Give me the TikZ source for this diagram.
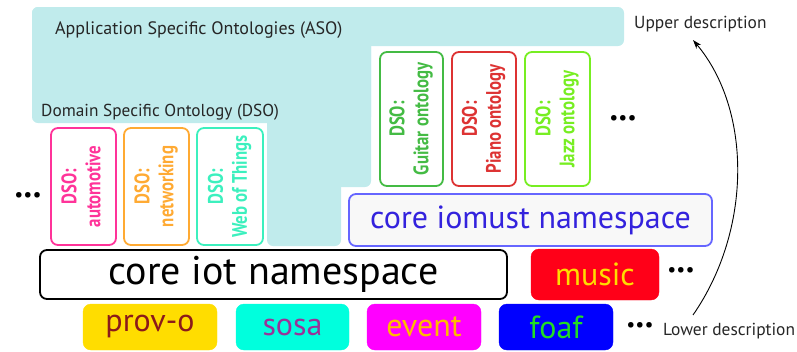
\documentclass[tikz,border=0pt]{standalone}
\usepackage{fontspec}
\usepackage{graphicx}
\setmainfont{PT Sans}
\usetikzlibrary{arrows.meta}

\definecolor{asobg}{RGB}{192,235,236}
\definecolor{cpink}{RGB}{255,51,153}
\definecolor{corange}{RGB}{255,170,51}
\definecolor{caqua}{RGB}{60,240,190}
\definecolor{cguitar}{RGB}{68,187,68}
\definecolor{cpiano}{RGB}{221,51,51}
\definecolor{cjazz}{RGB}{119,238,34}
\definecolor{iomustline}{RGB}{102,102,255}
\definecolor{iomusttext}{RGB}{51,34,221}
\definecolor{iomustfill}{RGB}{248,248,248}
\definecolor{musicfill}{RGB}{255,0,24}
\definecolor{goldy}{RGB}{255,221,0}
\definecolor{darkred}{RGB}{139,26,26}
\definecolor{aquafill}{RGB}{0,255,221}
\definecolor{plum}{RGB}{153,51,153}
\definecolor{magentafill}{RGB}{255,0,255}
\definecolor{eventtext}{RGB}{255,187,0}
\definecolor{bluefill}{RGB}{0,0,255}
\definecolor{foaftext}{RGB}{34,221,34}

% two-line narrow label of a domain ontology
\newcommand\dsolabel[1]{\scalebox{0.8}[1]{\begin{tabular}{@{}c@{}}DSO:\\#1\end{tabular}}}

\tikzset{
  dsobox/.style={draw=#1, text=#1, line width=1.8pt, rounded corners=7pt,
    fill=white, rotate=90, inner sep=0pt,
    font=\bfseries\fontsize{21}{24}\selectfont},
  nsbox/.style={rounded corners=7pt, line width=1.8pt, inner sep=0pt},
  basebox/.style={fill=#1, draw=#1, rounded corners=8pt, inner sep=0pt,
    minimum height=46pt, font=\fontsize{32}{32}\selectfont},
  dots/.style={inner sep=0pt, font=\fontsize{20}{20}\selectfont},
  label/.style={inner sep=0pt, text=black!85},
  asopart/.style={fill=asobg, draw=none, rounded corners=6pt}
}

\begin{document}
\begin{tikzpicture}[x=1pt,y=-1pt]
\useasboundingbox (0,0) rectangle (797,351);

% light cyan background of the application ontologies
\fill[asopart] (32,7) rectangle (624,46);
\fill[asopart] (32,7) rectangle (371,123);
\fill[asopart] (267,7) rectangle (371,187);
\fill[asopart] (267,7) rectangle (341,246);

\node[label, anchor=west, font=\fontsize{18}{18}\selectfont] (aso) at (55,30)
  {Application Specific Ontologies (ASO)};
\node[label, anchor=west, font=\fontsize{17.3}{17.3}\selectfont] (dso) at (41,112)
  {Domain Specific Ontology (DSO)};

% domain specific ontologies, left group
\node[dsobox=cpink, minimum width=117pt, minimum height=65pt] (auto) at (83.5,186.5)
  {\dsolabel{automotive}};
\node[dsobox=corange, minimum width=117pt, minimum height=65pt] (net) at (156.5,186.5)
  {\dsolabel{networking}};
\node[dsobox=caqua, minimum width=117pt, minimum height=66pt] (wot) at (230,186.5)
  {\dsolabel{Web of Things}};

% domain specific ontologies, music group
\node[dsobox=cguitar, minimum width=134pt, minimum height=63pt] (guitar) at (411.5,119)
  {\dsolabel{Guitar ontology}};
\node[dsobox=cpiano, minimum width=134pt, minimum height=64pt] (piano) at (484,119)
  {\dsolabel{Piano ontology}};
\node[dsobox=cjazz, minimum width=134pt, minimum height=65pt] (jazz) at (557.5,119)
  {\dsolabel{Jazz ontology}};

% core namespaces
\node[nsbox, draw=iomustline, fill=iomustfill, text=iomusttext,
  font=\fontsize{32}{32}\selectfont,
  minimum width=363pt, minimum height=52pt] (iomust) at (530.5,220)
  {core iomust namespace};
\node[nsbox, draw=black, fill=white, text=black,
  font=\fontsize{40}{40}\selectfont,
  minimum width=467pt, minimum height=49pt] (iot) at (273.5,274.5)
  {core iot namespace};

% base vocabularies
\node[basebox=musicfill, text=goldy, minimum width=128pt, minimum height=51pt] (music) at (595,274.5) {music};
\node[basebox=goldy, text=darkred, minimum width=134pt] (prov) at (150,327) {prov-o};
\node[basebox=aquafill, text=plum, minimum width=113pt] (sosa) at (292.5,327) {sosa};
\node[basebox=magentafill, text=eventtext, minimum width=114pt] (event) at (424,327) {event};
\node[basebox=bluefill, text=foaftext, minimum width=114pt] (foaf) at (556,327) {foaf};

% continuation marks
\node[dots] (dl) at (28,197) {•••};
\node[dots] (dr) at (623,120) {•••};
\node[dots] (dm) at (681,272) {•••};
\node[dots] (df) at (640,327) {•••};

% description axis
\node[label, anchor=west, font=\fontsize{17.4}{17.4}\selectfont] (upper) at (634,24) {Upper description};
\node[label, anchor=west, font=\fontsize{17.4}{17.4}\selectfont] (lower) at (663,331) {Lower description};
\coordinate (lowend) at (693,315);
\coordinate (upend) at (693,40);
\draw[line width=0.9pt, -{Stealth[length=9pt,width=6pt]}]
  (lowend) .. controls (752,230) and (752,110) .. (upend);
\end{tikzpicture}
\end{document}
